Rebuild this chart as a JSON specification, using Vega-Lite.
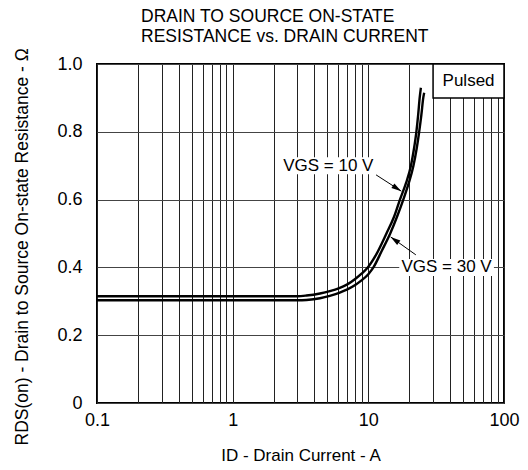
{
  "$schema": "https://vega.github.io/schema/vega-lite/v6.json",
  "width": 407,
  "height": 339,
  "autosize": {"type": "none"},
  "padding": {"left": 97, "top": 64, "right": 24, "bottom": 67},
  "background": "white",
  "config": {
    "font": "Liberation Sans",
    "view": {"stroke": "black", "strokeWidth": 2}
  },
  "title": {
    "text": ["DRAIN TO SOURCE ON-STATE", "RESISTANCE vs. DRAIN CURRENT"],
    "anchor": "start",
    "frame": "group",
    "dx": 44,
    "dy": 9,
    "fontSize": 17.5,
    "fontWeight": "normal",
    "color": "black",
    "lineHeight": 20,
    "offset": 6,
    "font": "Liberation Sans"
  },
  "datasets": {
    "curves": [
      {"I": 0.1, "R": 0.315, "vgs": "10"},
      {"I": 1, "R": 0.315, "vgs": "10"},
      {"I": 3, "R": 0.315, "vgs": "10"},
      {"I": 3.5, "R": 0.317, "vgs": "10"},
      {"I": 4.4, "R": 0.323, "vgs": "10"},
      {"I": 5.2, "R": 0.33, "vgs": "10"},
      {"I": 6.1, "R": 0.339, "vgs": "10"},
      {"I": 7, "R": 0.35, "vgs": "10"},
      {"I": 8, "R": 0.366, "vgs": "10"},
      {"I": 9, "R": 0.383, "vgs": "10"},
      {"I": 9.9, "R": 0.4, "vgs": "10"},
      {"I": 11.5, "R": 0.44, "vgs": "10"},
      {"I": 13.6, "R": 0.5, "vgs": "10"},
      {"I": 15.5, "R": 0.55, "vgs": "10"},
      {"I": 17.1, "R": 0.6, "vgs": "10"},
      {"I": 19, "R": 0.65, "vgs": "10"},
      {"I": 20.6, "R": 0.7, "vgs": "10"},
      {"I": 21.7, "R": 0.75, "vgs": "10"},
      {"I": 22.6, "R": 0.8, "vgs": "10"},
      {"I": 23.3, "R": 0.85, "vgs": "10"},
      {"I": 23.9, "R": 0.9, "vgs": "10"},
      {"I": 24.4, "R": 0.93, "vgs": "10"},
      {"I": 0.1, "R": 0.303, "vgs": "30"},
      {"I": 1, "R": 0.303, "vgs": "30"},
      {"I": 3, "R": 0.303, "vgs": "30"},
      {"I": 3.5, "R": 0.304, "vgs": "30"},
      {"I": 4.4, "R": 0.309, "vgs": "30"},
      {"I": 5.2, "R": 0.316, "vgs": "30"},
      {"I": 6.1, "R": 0.325, "vgs": "30"},
      {"I": 7, "R": 0.335, "vgs": "30"},
      {"I": 8, "R": 0.348, "vgs": "30"},
      {"I": 9, "R": 0.363, "vgs": "30"},
      {"I": 10, "R": 0.38, "vgs": "30"},
      {"I": 10.9, "R": 0.4, "vgs": "30"},
      {"I": 12.6, "R": 0.45, "vgs": "30"},
      {"I": 14.5, "R": 0.5, "vgs": "30"},
      {"I": 16.3, "R": 0.55, "vgs": "30"},
      {"I": 18.1, "R": 0.6, "vgs": "30"},
      {"I": 19.9, "R": 0.65, "vgs": "30"},
      {"I": 21.5, "R": 0.7, "vgs": "30"},
      {"I": 22.7, "R": 0.75, "vgs": "30"},
      {"I": 23.7, "R": 0.8, "vgs": "30"},
      {"I": 24.6, "R": 0.85, "vgs": "30"},
      {"I": 25.4, "R": 0.9, "vgs": "30"},
      {"I": 25.8, "R": 0.915, "vgs": "30"}
    ],
    "labels": [
      {"text": "VGS = 10 V", "x1": 2.22, "x2": 11.6, "y1": 0.675, "y2": 0.725, "xc": 5.07, "yc": 0.7},
      {"text": "VGS = 30 V", "x1": 16.9, "x2": 84.3, "y1": 0.375, "y2": 0.425, "xc": 37.7, "yc": 0.4}
    ],
    "pulsed": [
      {"text": "Pulsed", "x1": 30, "x2": 100, "y1": 0.9, "y2": 1.0, "xc": 54.8, "yc": 0.95}
    ],
    "arrows": [
      {"xs": 11.4, "ys": 0.673, "xe": 17.5, "ye": 0.625, "dir": "down"},
      {"xs": 22.4, "ys": 0.437, "xe": 14.6, "ye": 0.49, "dir": "up"}
    ]
  },
  "layer": [
    {
      "data": {"name": "curves"},
      "mark": {"type": "line", "color": "black", "strokeWidth": 2.4, "interpolate": "monotone"},
      "encoding": {
        "x": {
          "field": "I", "type": "quantitative",
          "scale": {"type": "log", "domain": [0.1, 100], "nice": false},
          "axis": {
            "values": [0.1,0.2,0.3,0.4,0.5,0.6,0.7,0.8,0.9,1,2,3,4,5,6,7,8,9,10,20,30,40,50,60,70,80,90,100],
            "labelExpr": "datum.value == 0.1 ? '0.1' : datum.value == 1 ? '1' : datum.value == 10 ? '10' : datum.value == 100 ? '100' : ''",
            "labelOverlap": false,
            "labelBound": false,
            "labelFlush": false,
            "labelFontSize": 18,
            "labelColor": "black",
            "labelPadding": 8,
            "ticks": false,
            "domain": false,
            "grid": true,
            "gridColor": "#222222",
            "gridWidth": 1,
            "title": "ID -   Drain Current -  A",
            "titleFontSize": 17,
            "titleFontWeight": "normal",
            "titleColor": "black",
            "titlePadding": 18
          }
        },
        "y": {
          "field": "R", "type": "quantitative",
          "scale": {"domain": [0, 1], "nice": false, "zero": true},
          "axis": {
            "values": [0,0.1,0.2,0.3,0.4,0.5,0.6,0.7,0.8,0.9,1],
            "labelExpr": "datum.value == 0 ? '0' : (round(datum.value * 10) % 2 == 0 ? format(datum.value, '.1f') : '')",
            "labelOverlap": false,
            "labelBound": false,
            "labelFlush": false,
            "labelFontSize": 18,
            "labelColor": "black",
            "labelPadding": 15,
            "ticks": false,
            "domain": false,
            "grid": true,
            "gridColor": "#444444",
            "gridWidth": 1,
            "title": "RDS(on) -  Drain to Source On-state Resistance - Ω",
            "titleFontSize": 17.5,
            "titleFontWeight": "normal",
            "titleColor": "black",
            "titleAngle": 270,
            "titleAlign": "left",
            "titleBaseline": "alphabetic",
            "titleX": -70,
            "titleY": 381
          }
        },
        "detail": {"field": "vgs", "type": "nominal"}
      }
    },
    {
      "data": {"name": "labels"},
      "mark": {"type": "rect", "fill": "white"},
      "encoding": {
        "x": {"field": "x1", "type": "quantitative"},
        "x2": {"field": "x2"},
        "y": {"field": "y1", "type": "quantitative"},
        "y2": {"field": "y2"}
      }
    },
    {
      "data": {"name": "labels"},
      "mark": {"type": "text", "fontSize": 17, "color": "black", "align": "center", "baseline": "middle"},
      "encoding": {
        "x": {"field": "xc", "type": "quantitative"},
        "y": {"field": "yc", "type": "quantitative"},
        "text": {"field": "text"}
      }
    },
    {
      "data": {"name": "pulsed"},
      "mark": {"type": "rect", "fill": "white", "stroke": "black", "strokeWidth": 1.5},
      "encoding": {
        "x": {"field": "x1", "type": "quantitative"},
        "x2": {"field": "x2"},
        "y": {"field": "y1", "type": "quantitative"},
        "y2": {"field": "y2"}
      }
    },
    {
      "data": {"name": "pulsed"},
      "mark": {"type": "text", "fontSize": 17, "color": "black", "align": "center", "baseline": "middle"},
      "encoding": {
        "x": {"field": "xc", "type": "quantitative"},
        "y": {"field": "yc", "type": "quantitative"},
        "text": {"field": "text"}
      }
    },
    {
      "data": {"name": "arrows"},
      "mark": {"type": "rule", "color": "black", "strokeWidth": 1},
      "encoding": {
        "x": {"field": "xs", "type": "quantitative"},
        "x2": {"field": "xe"},
        "y": {"field": "ys", "type": "quantitative"},
        "y2": {"field": "ye"}
      }
    },
    {
      "data": {"name": "arrows"},
      "transform": [{"filter": "datum.dir == 'down'"}],
      "mark": {"type": "point", "shape": "M0,0L0.28,1L-0.28,1Z", "filled": true, "color": "black", "size": 400, "opacity": 1, "angle": 122.6},
      "encoding": {
        "x": {"field": "xe", "type": "quantitative"},
        "y": {"field": "ye", "type": "quantitative"}
      }
    },
    {
      "data": {"name": "arrows"},
      "transform": [{"filter": "datum.dir == 'up'"}],
      "mark": {"type": "point", "shape": "M0,0L0.28,1L-0.28,1Z", "filled": true, "color": "black", "size": 400, "opacity": 1, "angle": 305.5},
      "encoding": {
        "x": {"field": "xe", "type": "quantitative"},
        "y": {"field": "ye", "type": "quantitative"}
      }
    }
  ]
}
